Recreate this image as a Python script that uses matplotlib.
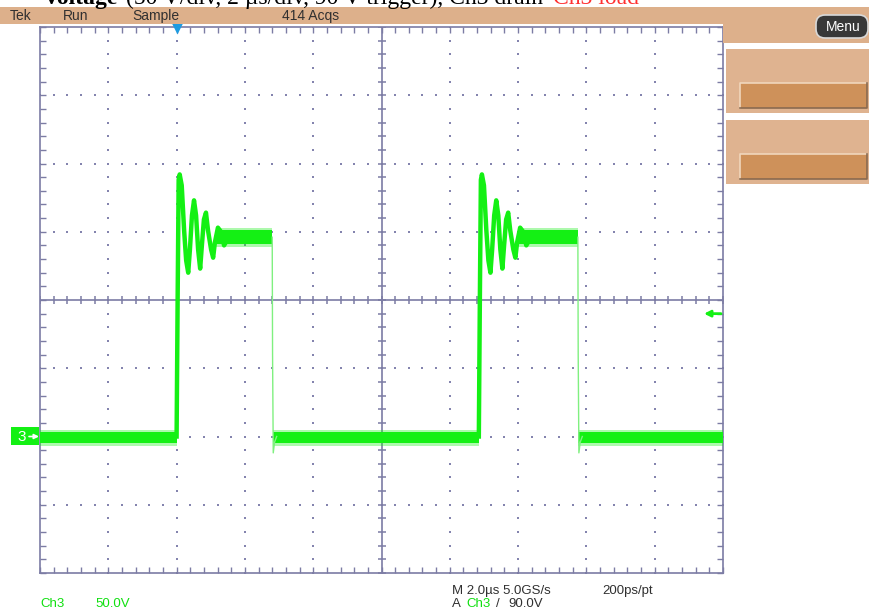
import numpy as np
import matplotlib
matplotlib.use("Agg")
import matplotlib.pyplot as plt
from matplotlib.patches import Rectangle, FancyBboxPatch
from matplotlib.ticker import MultipleLocator

# --- scope settings ---
time_per_div = 2.0      # us
volt_per_div = 50.0     # V
n_xdiv, n_ydiv = 10, 8
ground_div = 2          # ground marker, divisions above the bottom edge
trig_time = 4.0         # us, trigger position marker
trig_level = 90.0       # V

# --- waveform ---
rise_times = [4.0, 12.85]       # us
fall_times = [6.8, 15.75]       # us
# ringing after each rising edge: time offset from edge (us) and voltage (V)
ring_dt = [0.00, 0.03, 0.06, 0.09, 0.15, 0.22, 0.28, 0.34, 0.39, 0.45, 0.51,
           0.57, 0.63, 0.69, 0.74, 0.80, 0.86, 0.92, 1.01, 1.07, 1.12, 1.21,
           1.30, 1.39, 1.48, 1.56, 1.68, 1.86]
ring_v = [0, 100, 188, 192, 184, 151, 129, 120, 137, 162, 173, 162, 137, 123,
          140, 159, 164, 151, 137, 131, 142, 153, 150, 140, 144, 149, 145, 147]
top_start_dt = 1.15     # where the flat noisy top begins
# falling edge with undershoot
fall_dt = [0.0, 0.01, 0.03, 0.07, 0.13]
fall_v = [146, 60, -12, -4, 0]
base_band = (-5, 3)      # noise band on the low level (V)
top_band = (141, 151)    # noise band on the high level (V)

# screen texts
header_txt = [("Tek", 10), ("Run", 63), ("Sample", 132), ("414 Acqs", 282)]
green = "#14f014"
frame_col = "#7c7ca4"
tan = "#ddb08b"

xmax = n_xdiv * time_per_div
ymin = -ground_div * volt_per_div
ymax = ymin + n_ydiv * volt_per_div

W, H = 870, 612
fig = plt.figure(figsize=(W / 100, H / 100), dpi=100)

# scope graticule area (pixels 40..723 x 27..573)
ax = fig.add_axes([40 / W, (H - 573) / H, 683 / W, 546 / H])
ax.set_xlim(0, xmax)
ax.set_ylim(ymin, ymax)
for s in ax.spines.values():
    s.set_color(frame_col)
    s.set_linewidth(1.2)
ax.xaxis.set_major_locator(MultipleLocator(time_per_div))
ax.xaxis.set_minor_locator(MultipleLocator(time_per_div / 5))
ax.yaxis.set_major_locator(MultipleLocator(volt_per_div))
ax.yaxis.set_minor_locator(MultipleLocator(volt_per_div / 5))
ax.tick_params(which="both", direction="in", length=4, width=1, color=frame_col,
               top=True, right=True, labelleft=False, labelbottom=False)

# dotted graticule
xc = xmax / 2
yc = (ymin + ymax) / 2
minor_x = np.arange(0, xmax + 1e-9, time_per_div / 5)
minor_y = np.arange(ymin, ymax + 1e-9, volt_per_div / 5)
for gx in np.arange(time_per_div, xmax, time_per_div):
    if abs(gx - xc) > 1e-6:
        ax.scatter(np.full(len(minor_y), gx), minor_y, s=3, marker="s",
                   color="#8484ae", lw=0, zorder=1)
for gy in np.arange(ymin + volt_per_div, ymax, volt_per_div):
    if abs(gy - yc) > 1e-6:
        ax.scatter(minor_x, np.full(len(minor_x), gy), s=3, marker="s",
                   color="#8484ae", lw=0, zorder=1)
# centre crosshair with ticks
ax.axvline(xc, color=frame_col, lw=1.2, zorder=1)
ax.axhline(yc, color=frame_col, lw=1.2, zorder=1)
ax.plot(minor_x, np.full(len(minor_x), yc), ls="none", marker="|", ms=6,
        mew=1.1, color=frame_col, zorder=1)
ax.plot(np.full(len(minor_y), xc), minor_y, ls="none", marker="_", ms=6,
        mew=1.1, color=frame_col, zorder=1)

# waveform
lows = [0] + [f + fall_dt[1] for f in fall_times]
highs = rise_times + [xmax]
for lo, hi in zip(lows, highs):
    ax.fill_between([lo, hi], base_band[0] - 2, base_band[1] + 2, color=green,
                    alpha=0.35, lw=0, zorder=3)
    ax.fill_between([lo, hi], base_band[0], base_band[1], color=green, lw=0,
                    zorder=3)
for r, f in zip(rise_times, fall_times):
    rt = [r + d for d in ring_dt]
    ax.plot(rt, ring_v, color=green, lw=3.2, zorder=4, solid_joinstyle="round")
    ax.fill_between([r + top_start_dt, f], top_band[0], top_band[1],
                    color=green, lw=0, zorder=3)
    ax.fill_between([r + top_start_dt, f], top_band[0] - 2, top_band[1] + 2,
                    color=green, alpha=0.35, lw=0, zorder=3)
    ax.plot([f + d for d in fall_dt], fall_v, color="#80f080", lw=1.0, zorder=4)

# trigger position marker
ax.plot([trig_time], [ymax], marker="v", ms=10, color="#1e9be0", clip_on=False,
        zorder=6, mec="none")

# overlay for screen furniture (pixel coordinates)
ui = fig.add_axes([0, 0, 1, 1], facecolor="none")
ui.set_xlim(0, W)
ui.set_ylim(H, 0)
ui.axis("off")

ui.add_patch(Rectangle((0, 7), W, 17, color=tan, lw=0))
ui.add_patch(Rectangle((723, 7), W - 723, 36, color=tan, lw=0))
ui_font = ["Liberation Sans Narrow", "Liberation Sans", "DejaVu Sans"]
for txt, x in header_txt:
    ui.text(x, 20, txt, fontsize=10, color="#303030", family=ui_font,
            va="baseline")

# Menu button
ui.add_patch(FancyBboxPatch((816, 15), 52, 23, boxstyle="round,pad=0,rounding_size=9",
                            fc="#383838", ec="#d8d8d8", lw=1.2))
ui.text(843, 27, "Menu", fontsize=10, color="white", family=ui_font,
        ha="center", va="center")

# side panels
for py in (49, 120):
    ui.add_patch(Rectangle((726, py), W - 726, 64, color="#dfb390", lw=0))
    ui.add_patch(Rectangle((740, py + 34), 127, 25, fc="#ce915a", ec="none"))
    ui.plot([740, 740, 867], [py + 59, py + 34, py + 34], color="#f0d6bc", lw=1.2)
    ui.plot([740, 867, 867], [py + 59, py + 59, py + 34], color="#8a6a50", lw=1.2)

# ground marker "3 ->"
ui.add_patch(Rectangle((11, 427), 28, 18, color=green, lw=0, zorder=7))
ui.text(22, 437, "3", fontsize=11, color="white", family=ui_font,
        ha="center", va="center", zorder=8)
ui.annotate("", xy=(39, 436.5), xytext=(29, 436.5), zorder=8,
            arrowprops=dict(arrowstyle="-|>", color="white", lw=1.2,
                            mutation_scale=7, shrinkA=0, shrinkB=0))

# trigger level arrow on the right
ty = 436.5 - trig_level / volt_per_div * 68.25
ui.annotate("", xy=(704, ty), xytext=(721, ty),
            arrowprops=dict(arrowstyle="-|>", color=green, lw=2,
                            mutation_scale=9, shrinkA=0, shrinkB=0))

# bottom readouts
ui.text(40, 607, "Ch3", fontsize=9.5, color="#10e010", family=ui_font, va="baseline")
ui.text(95, 607, "50.0V", fontsize=9.5, color="#10e010", family=ui_font, va="baseline")
ui.text(452, 594, "M 2.0\u00b5s 5.0GS/s", fontsize=9.5, color="#303030",
        family=ui_font, va="baseline")
ui.text(602, 594, "200ps/pt", fontsize=9.5, color="#303030", family=ui_font,
        va="baseline")
ui.text(452, 607, "A", fontsize=9.5, color="#303030", family=ui_font, va="baseline")
ui.text(466, 607, "Ch3", fontsize=9.5, color="#10e010", family=ui_font, va="baseline")
ui.text(496, 607, "/", fontsize=9.5, color="#303030", family=ui_font, va="baseline")
ui.text(508, 607, "90.0V", fontsize=9.5, color="#303030", family=ui_font,
        va="baseline")

# caption line, cut off at the top of the screenshot as in the original
ui.text(43, 4, "Voltage", fontsize=17, weight="bold", family="Liberation Serif",
        va="baseline")
ui.text(126, 4, "(50 V/div, 2 \u00b5s/div, 90 V trigger), Ch3 drain", fontsize=17,
        family="Liberation Serif", va="baseline")
ui.text(553, 4, "Ch3 load", fontsize=17, color="#ff3030",
        family="Liberation Serif", va="baseline")

fig.savefig("out.png", dpi=100)
